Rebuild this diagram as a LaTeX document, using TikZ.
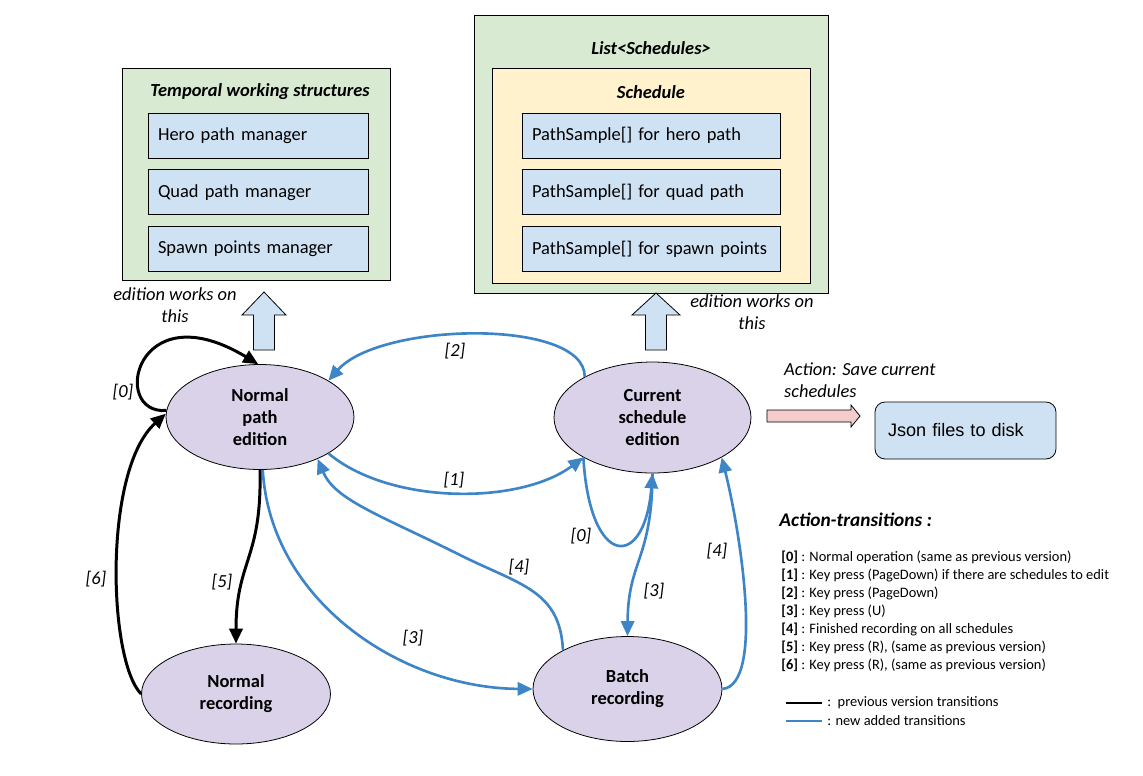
\documentclass[tikz,border=0pt]{standalone}
\usepackage{fontspec}
\setmainfont{Carlito}
\newfontfamily\arialfont{Liberation Sans}
\usetikzlibrary{arrows.meta, positioning, shapes.geometric}
\definecolor{greenbg}{HTML}{D9EAD3}
\definecolor{yellowbg}{HTML}{FFF2CC}
\definecolor{bluebg}{HTML}{CFE2F3}
\definecolor{purplebg}{HTML}{D9D2E9}
\definecolor{pinkbg}{HTML}{F4CCCC}
\definecolor{linkblue}{HTML}{3D85C6}
\tikzset{
	container/.style={draw, rectangle, line width=0.45pt, fill=greenbg},
	inner/.style={draw, rectangle, line width=0.45pt, fill=yellowbg},
	member/.style={draw, rectangle, line width=0.45pt, fill=bluebg, minimum height=0.9cm, inner xsep=0.2cm, align=left, font=\fontsize{10.5}{12.5}\selectfont},
	title/.style={font=\fontsize{10.5}{12.5}\selectfont\bfseries\itshape},
	mode/.style={draw, ellipse, line width=0.45pt, fill=purplebg, align=center, inner sep=0pt, font=\fontsize{10.5}{12.5}\selectfont\bfseries},
	% labels of the transitions
	lab/.style={font=\fontsize{10.5}{12.5}\selectfont\itshape},
	note/.style={align=center, font=\fontsize{10.5}{12.5}\selectfont\itshape},
	legtext/.style={anchor=west, inner sep=0pt, font=\fontsize{8.2}{10.24}\selectfont},
	oldedge/.style={line width=1.7pt, black},
	newedge/.style={line width=1.5pt, linkblue},
	bigarrow/.style={draw, line width=0.45pt},
}

\begin{document}
\begin{tikzpicture}[x=0.02cm, y=-0.02cm]
	\useasboundingbox (0,0) rectangle (1143,775);
	
	% working structures
	\node (work) [container, minimum width=5.36cm, minimum height=4.24cm] at (256,174) {};
	\node (worktitle) [title] at (260,92) {Temporal working structures};
	\node (hero) [member, text width=4.0cm] at (258,135.5) {Hero path manager};
	\node (quad) [member, text width=4.0cm, below=0.22cm of hero] {Quad path manager};
	\node (spawn) [member, text width=4.0cm, below=0.22cm of quad] {Spawn points manager};
	
	% schedules
	\node (list) [container, minimum width=7.08cm, minimum height=5.56cm] at (651,154) {};
	\node (listtitle) [title] at (651,48) {List<Schedules>};
	\node (sched) [inner, minimum width=6.36cm, minimum height=4.3cm] at (651,175.5) {};
	\node (schedtitle) [title] at (651,92) {Schedule};
	\node (shero) [member, text width=4.76cm] at (651,135.5) {PathSample[] for hero path};
	\node (squad) [member, text width=4.76cm, below=0.22cm of shero] {PathSample[] for quad path};
	\node (sspawn) [member, text width=4.76cm, below=0.22cm of squad] {PathSample[] for spawn points};
	
	\node (workon1) [note] at (175,305) {edition works on\\this};
	\node (workon2) [note] at (752,312) {edition works on\\this};
	
	\filldraw[bigarrow, fill=bluebg] (253.5,350) -- (253.5,315) -- (242,315) -- (264,292) -- (286,315) -- (274.5,315) -- (274.5,350) -- cycle;
	\filldraw[bigarrow, fill=bluebg] (645.5,350) -- (645.5,315) -- (632,315) -- (656,293) -- (680,315) -- (666.5,315) -- (666.5,350) -- cycle;
	
	% modes
	\node (npe) [mode, minimum width=3.76cm, minimum height=2.1cm] at (260,417) {Normal\\path\\edition};
	\node (cse) [mode, minimum width=3.94cm, minimum height=2.22cm] at (652.5,417.5) {Current\\schedule\\edition};
	\node (nrec) [mode, minimum width=3.78cm, minimum height=2.0cm] at (236,694) {Normal\\recording};
	\node (brec) [mode, minimum width=3.78cm, minimum height=2.1cm] at (627.5,689) {Batch\\recording};
	
	% saving
	\node (savetxt) [lab, anchor=north west, align=left] at (778,357) {Action: Save current\\schedules};
	\filldraw[bigarrow, fill=pinkbg] (767,410) -- (851,410) -- (851,405) -- (860,416) -- (851,427) -- (851,422) -- (767,422) -- cycle;
	\node (json) [draw, rectangle, rounded corners=0.2cm, line width=0.45pt, fill=bluebg, minimum height=1.14cm, inner xsep=0.26cm, text width=3.1cm, align=left, font=\arialfont\fontsize{10.3}{12.5}\selectfont] at (965.5,430.5) {Json files to disk};
	
	\begin{scope}[->, >={Triangle[length=8.5pt, width=7.5pt]}]
		\draw[oldedge] (npe.176) .. controls (110,415) and (135,290) .. (npe.92);
		\draw[oldedge] (nrec.west) .. controls (108,660) and (103,470) .. (npe.178);
		\draw[oldedge] (npe.south) .. controls (262,560) and (236,560) .. (nrec.north);
		
		\draw[newedge] (cse.149) .. controls (585,318) and (380,322) .. (npe.28);
		\draw[newedge] (npe.-28) .. controls (390,505) and (520,505) .. (cse.-150);
		\draw[newedge] (npe.-87) .. controls (270,600) and (400,688) .. (brec.west);
		\draw[newedge] (brec.149) .. controls (560,590) and (520,585) .. (460,555) .. controls (380,515) and (335,500) .. (npe.-36);
		\draw[newedge] (cse.-150) .. controls (590,570) and (645,570) .. (cse.south);
		\draw[newedge] (cse.south) .. controls (652,560) and (628,560) .. (brec.north);
		\draw[newedge] (brec.east) .. controls (765,685) and (740,530) .. (cse.-30);
	\end{scope}
	
	\node (l0a) [lab] at (123,392) {[0]};
	\node (l6) [lab] at (96,579) {[6]};
	\node (l5) [lab] at (222,582) {[5]};
	\node (l2) [lab] at (455,351) {[2]};
	\node (l1) [lab] at (454,480) {[1]};
	\node (l4a) [lab] at (519,567) {[4]};
	\node (l3a) [lab] at (413,638) {[3]};
	\node (l0b) [lab] at (581,536) {[0]};
	\node (l3b) [lab] at (654,591) {[3]};
	\node (l4b) [lab] at (717,551) {[4]};
	
	% legend
	\node (legtitle) [anchor=west, inner sep=0pt, font=\fontsize{11}{13}\selectfont\bfseries\itshape] at (779,520) {Action-transitions :};
	\node (legend) [anchor=north west, align=left, inner sep=0pt, font=\fontsize{8.2}{10.24}\selectfont] at (781,551) {%
		\textbf{[0]} : Normal operation (same as previous version)\\
		\textbf{[1]} : Key press (PageDown) if there are schedules to edit\\
		\textbf{[2]} : Key press (PageDown)\\
		\textbf{[3]} : Key press (U)\\
		\textbf{[4]} : Finished recording on all schedules\\
		\textbf{[5]} : Key press (R), (same as previous version)\\
		\textbf{[6]} : Key press (R), (same as previous version)};
	\coordinate (k1) at (786,703);
	\coordinate (k2) at (822,703);
	\coordinate (k3) at (786,721);
	\coordinate (k4) at (822,721);
	\draw[oldedge, line width=1.3pt] (k1) -- (k2);
	\draw[newedge, line width=1.3pt] (k3) -- (k4);
	\node (leg1) [legtext] at (827,703) {:\ \ previous version transitions};
	\node (leg2) [legtext] at (827,721) {: new added transitions};
	
\end{tikzpicture}
\end{document}
